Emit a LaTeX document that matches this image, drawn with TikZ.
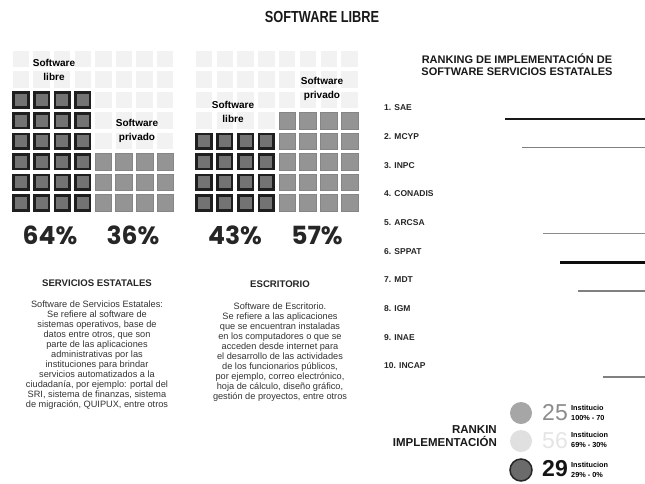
\documentclass[tikz,border=0pt]{standalone}
\usepackage{fontspec}
\setmainfont{Liberation Sans}
\newfontfamily\condfont[FakeStretch=0.8]{Liberation Sans}
\newfontfamily\pctfont{Poppins}

\begin{document}
\begin{tikzpicture}
[x=1pt,y=-1pt,
  libreDecorate/.style={shape=rectangle,draw=black!88,line width=2.6pt,fill=black!55,minimum size=14.5pt,inner sep=0pt},%
  privDecorate/.style={shape=rectangle,draw=black!48,line width=0.6pt,fill=black!42,minimum size=16.5pt,inner sep=0pt},%
  faintDecorate/.style={shape=rectangle,fill=black!5,minimum size=16.5pt,inner sep=0pt},%
  tagDecorate/.style={font=\bfseries\fontsize{10}{14}\selectfont,align=center,inner sep=0pt},%
  pctDecorate/.style={font=\pctfont\bfseries\fontsize{25}{25}\selectfont,text=black!85,inner sep=0pt},%
  headDecorate/.style={font=\bfseries\fontsize{9.6}{10}\selectfont,text=black!85,inner sep=0pt},%
  bodyDecorate/.style={font=\fontsize{9.2}{10}\selectfont,text=black!80,align=center,inner sep=0pt,anchor=north},%
  rankDecorate/.style={font=\bfseries\fontsize{8.5}{9}\selectfont,text=black!85,anchor=west,inner sep=0pt},%
  dotDecorate/.style={shape=circle,minimum size=22pt,inner sep=0pt},%
  numDecorate/.style={anchor=east,inner sep=0pt},%
  smallDecorate/.style={font=\bfseries\fontsize{7.3}{10.5}\selectfont,align=left,anchor=west,inner sep=0pt}]
\fill[white] (0,0) rectangle (645,483);
\useasboundingbox (0,0) rectangle (645,483);

%% title
\node (title) at (322,17) [font=\condfont\bfseries\fontsize{16}{16}\selectfont,text=black!90] {SOFTWARE LIBRE};

%% chart one: servicios estatales
\foreach \col in {1,...,8} \foreach \row in {1,2} {
  \node (fa\col\row) at ({21+20.6*(\col-1)},{58.8+20.6*(\row-1)}) [faintDecorate] {};
}
\foreach \col in {5,...,8} \foreach \row in {3,4,5} {
  \node (fa\col\row) at ({21+20.6*(\col-1)},{58.8+20.6*(\row-1)}) [faintDecorate] {};
}
\foreach \col in {1,...,4} \foreach \row in {3,...,8} {
  \node (la\col\row) at ({21+20.6*(\col-1)},{58.8+20.6*(\row-1)}) [libreDecorate] {};
}
\foreach \col in {5,...,8} \foreach \row in {6,7,8} {
  \node (pa\col\row) at ({21+20.6*(\col-1)},{58.8+20.6*(\row-1)}) [privDecorate] {};
}
\node (libreA) at (54,70) [tagDecorate] {Software\\libre};
\node (privA) at (137,130.5) [tagDecorate] {Software\\privado};
\node (pctLibreA) at (50,235) [pctDecorate] {64\%};
\node (pctPrivA) at (133,235) [pctDecorate] {36\%};

%% chart two: escritorio
\foreach \col in {1,...,4} \foreach \row in {1,...,4} {
  \node (fb\col\row) at ({204+20.8*(\col-1)},{58.8+20.6*(\row-1)}) [faintDecorate] {};
}
\foreach \col in {5,...,8} \foreach \row in {1,2,3} {
  \node (fb\col\row) at ({204+20.8*(\col-1)},{58.8+20.6*(\row-1)}) [faintDecorate] {};
}
\foreach \col in {1,...,4} \foreach \row in {5,...,8} {
  \node (lb\col\row) at ({204+20.8*(\col-1)},{58.8+20.6*(\row-1)}) [libreDecorate] {};
}
\foreach \col in {5,...,8} \foreach \row in {4,...,8} {
  \node (pb\col\row) at ({204+20.8*(\col-1)},{58.8+20.6*(\row-1)}) [privDecorate] {};
}
\node (privB) at (322,89) [tagDecorate] {Software\\privado};
\node (libreB) at (233,112) [tagDecorate] {Software\\libre};
\node (pctLibreB) at (235,235) [pctDecorate] {43\%};
\node (pctPrivB) at (317,235) [pctDecorate] {57\%};

%% texts under the charts
\node (headA) at (97,283) [headDecorate] {SERVICIOS ESTATALES};
\node (bodyA) at (97,301) [bodyDecorate] {Software de Servicios Estatales:\\
  Se refiere al software de\\ sistemas operativos, base de\\
  datos entre otros, que son\\ parte de las aplicaciones\\
  administrativas por las\\ instituciones para brindar\\
  servicios automatizados a la\\ ciudadanía, por ejemplo: portal del\\
  SRI, sistema de finanzas, sistema\\ de migración, QUIPUX, entre otros};
\node (headB) at (280,284) [headDecorate] {ESCRITORIO};
\node (bodyB) at (280,303) [bodyDecorate] {Software de Escritorio.\\
  Se refiere a las aplicaciones\\ que se encuentran instaladas\\
  en los computadores o que se\\ acceden desde internet para\\
  el desarrollo de las actividades\\ de los funcionarios públicos,\\
  por ejemplo, correo electrónico,\\ hoja de cálculo, diseño gráfico,\\
  gestión de proyectos, entre otros};

%% ranking
\node (rankHead) at (517,65) [font=\bfseries\fontsize{11}{12}\selectfont,text=black!90,align=center] {RANKING DE IMPLEMENTACIÓN DE\\SOFTWARE SERVICIOS ESTATALES};
\foreach \i/\name in {1/1. SAE, 2/2. MCYP, 3/3. INPC, 4/4. CONADIS, 5/5. ARCSA,
  6/6. SPPAT, 7/7. MDT, 8/8. IGM, 9/9. INAE, 10/10. INCAP} {
  \node (r\i) at (384,{108+28.67*(\i-1)}) [rankDecorate] {\name};
}
\foreach \i/\xs/\w/\c in {1/505/2.4/90, 2/522/1.4/50, 5/543/1.2/45, 6/560/3/95, 7/578/1.2/50, 10/603/1.2/50} {
  \coordinate (s\i) at (\xs,{119+28.67*(\i-1)});
  \coordinate (e\i) at (645,{119+28.67*(\i-1)});
  \draw[line width=\w pt,black!\c] (s\i) -- (e\i);
}

%% legend
\node (legend) at (497,436) [anchor=east,align=right,font=\bfseries\fontsize{11.5}{13}\selectfont,text=black!90,inner sep=0pt] {RANKIN\\IMPLEMENTACIÓN};
\node (c1) at (521,413) [dotDecorate,fill=black!35] {};
\node (c2) at (521,441) [dotDecorate,fill=black!12] {};
\node (c3) at (521,470) [dotDecorate,fill=black!58,draw=black!85,line width=1.5pt] {};
\node (n1) at (568,413) [numDecorate,font=\fontsize{23}{23}\selectfont,text=black!45] {25};
\node (n2) at (568,441) [numDecorate,font=\fontsize{23}{23}\selectfont,text=black!10] {56};
\node (n3) at (568,469) [numDecorate,font=\bfseries\fontsize{23}{23}\selectfont,text=black!92] {29};
\node (t1) at (571,413) [smallDecorate] {Institucio\\100\% - 70};
\node (t2) at (571,440) [smallDecorate] {Institucion\\69\% - 30\%};
\node (t3) at (571,470) [smallDecorate] {Institucion\\29\% - 0\%};
\end{tikzpicture}
\end{document}
